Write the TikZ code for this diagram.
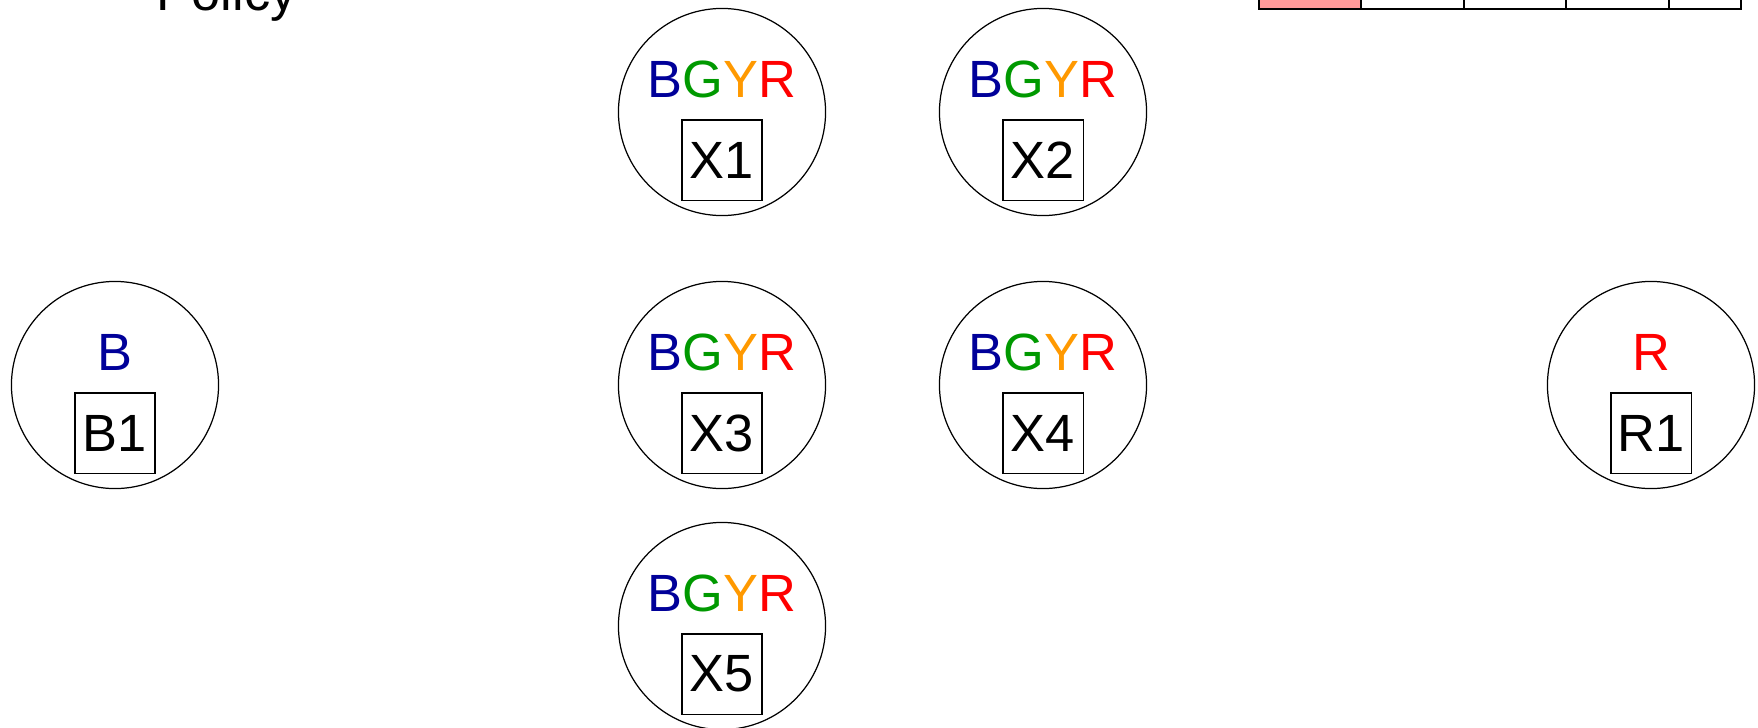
\documentclass[tikz,border=0pt]{standalone}
\usepackage{fontspec}
\setmainfont{Liberation Sans}
\definecolor{tokB}{HTML}{000099}
\definecolor{tokG}{HTML}{009900}
\definecolor{tokY}{HTML}{FF9900}
\definecolor{tokR}{HTML}{FF0000}
\definecolor{policyfill}{HTML}{FF9999}
\newcommand{\bgyr}{\textcolor{tokB}{B}\textcolor{tokG}{G}\textcolor{tokY}{Y}\textcolor{tokR}{R}}
\begin{document}
\begin{tikzpicture}[x=0.01cm,y=-0.01cm]
\tikzset{agent/.style={draw,circle,line width=0.35pt,minimum size=2.07cm,inner sep=0pt},
  colours/.style={inner sep=0pt,font=\fontsize{14.9}{18}\selectfont,yshift=0.33cm},
  idbox/.style={draw,line width=0.45pt,minimum size=0.805cm,inner sep=0pt,
    font=\fontsize{14.9}{18}\selectfont,yshift=-0.48cm}}
\useasboundingbox (0,0) rectangle (1758,727);
% Policy table (cut off at the top)
\node[anchor=base west,inner sep=0pt,font=\fontsize{14.9}{18}\selectfont] (policy) at (156,10) {Policy};
\fill[policyfill] (1259,-40) rectangle (1361,9);
\foreach \x in {1361,1464,1566,1669}
  \draw[line width=0.4pt] (\x,-40) -- (\x,9);
\draw[line width=0.5pt] (1259,-40) -- (1259,9) -- (1741,9) -- (1741,-40);
%%%
\foreach \n/\x/\y/\lbl in {x1/722/112/X1,x2/1043/112/X2,x3/722/385/X3,x4/1043/385/X4,x5/722/626/X5}{
  \node[agent] (\n) at (\x,\y) {};
  \node[colours] (\n c) at (\n.center) {\bgyr};
  \node[idbox] (\n id) at (\n.center) {\lbl};
}
%%%
\node[agent] (b1) at (115,385) {};
\node[colours] (b1c) at (b1.center) {\textcolor{tokB}{B}};
\node[idbox] (b1id) at (b1.center) {B1};
\node[agent] (r1) at (1651,385) {};
\node[colours] (r1c) at (r1.center) {\textcolor{tokR}{R}};
\node[idbox] (r1id) at (r1.center) {R1};
\end{tikzpicture}
\end{document}
